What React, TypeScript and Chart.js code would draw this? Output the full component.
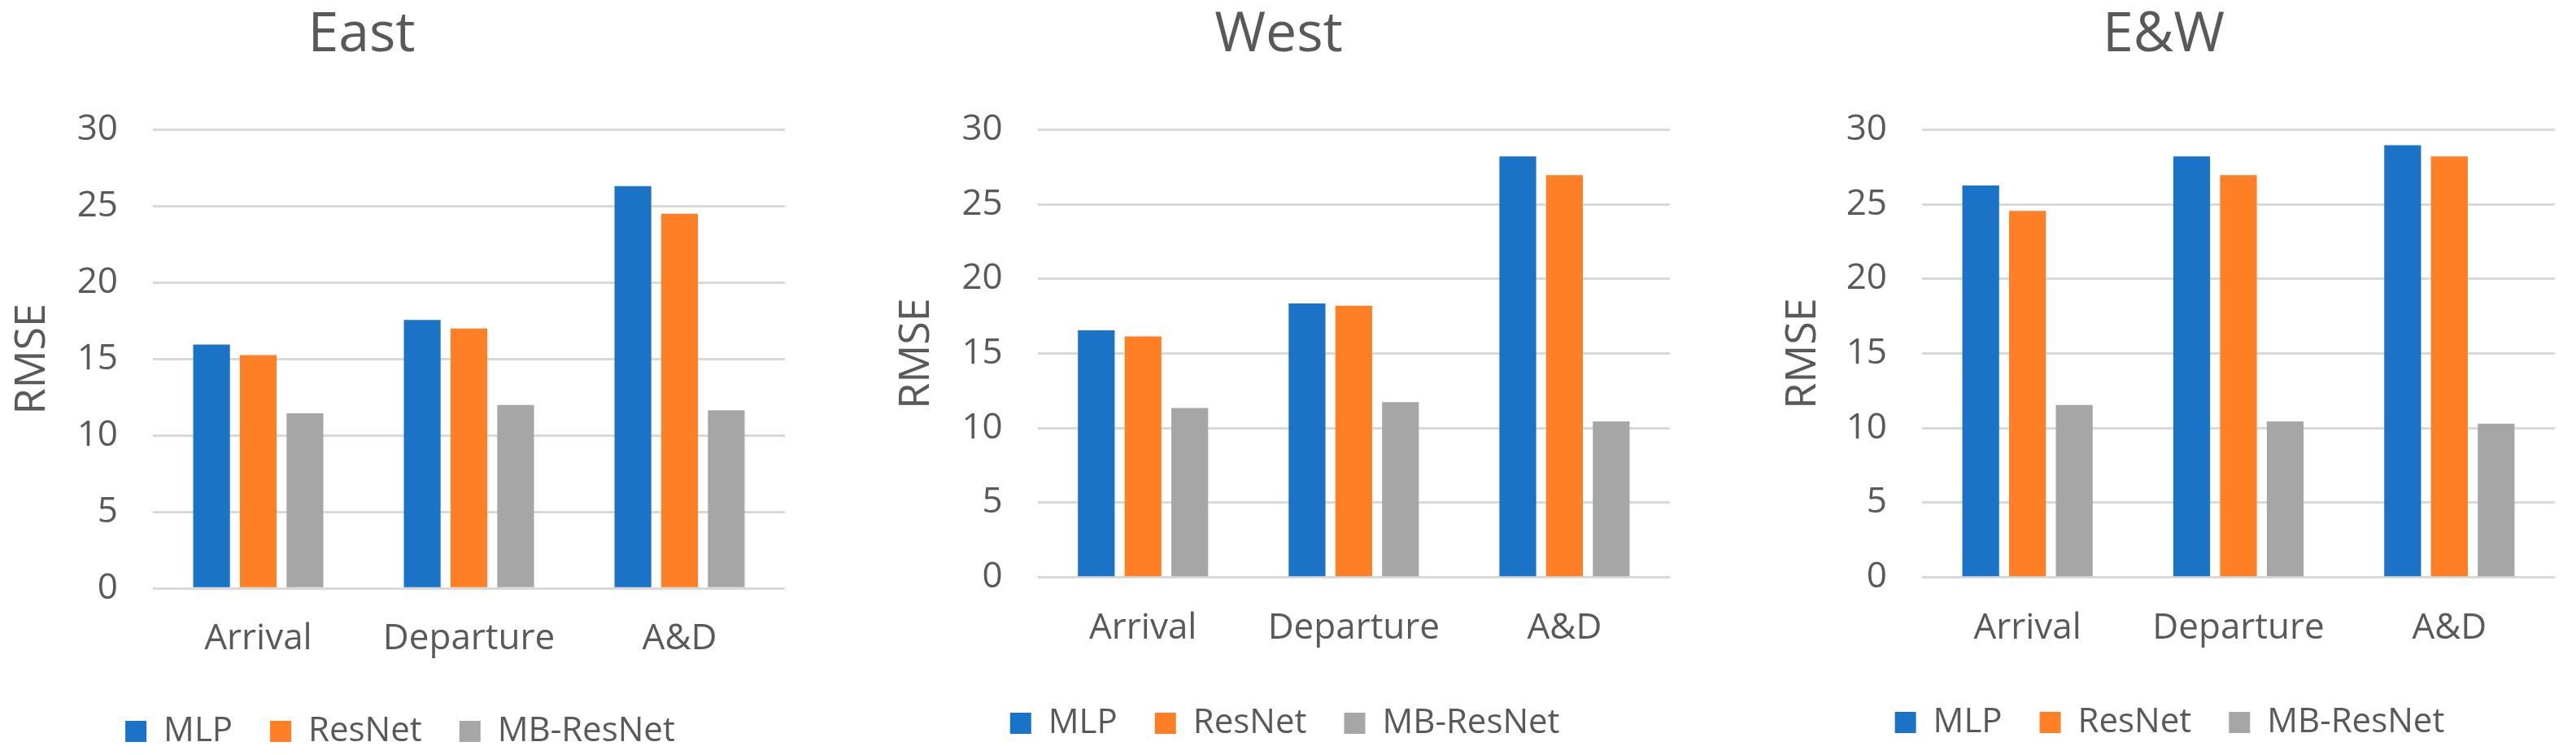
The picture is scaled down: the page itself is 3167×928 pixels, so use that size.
import React, { useEffect, useRef } from 'react';
import { Chart, registerables } from 'chart.js';

Chart.register(...registerables);

// ---- data ----
const categories = ['Arrival', 'Departure', 'A&D'];
const seriesNames = ['MLP', 'ResNet', 'MB-ResNet'];
const panelTitles = ['East', 'West', 'E&W'];
const yAxisTitle = 'RMSE';
const yMin = 0;
const yMax = 30;
const yStep = 5;

const eastMLP = [15.95, 17.55, 26.3];
const eastResNet = [15.25, 17.0, 24.5];
const eastMBResNet = [11.45, 12.0, 11.65];

const westMLP = [16.55, 18.35, 28.2];
const westResNet = [16.15, 18.2, 26.95];
const westMBResNet = [11.35, 11.75, 10.45];

const ewMLP = [26.25, 28.2, 28.95];
const ewResNet = [24.55, 26.95, 28.2];
const ewMBResNet = [11.55, 10.45, 10.3];

// ---- styles / layout ----
const seriesColors = ['#1a73c7', '#ff7f27', '#a6a6a6'];
const TEXT = '#595959';
const GRID = '#d9d9d9';
const FONT = "'Open Sans', 'Noto Sans', sans-serif";
const H = 928;

const TITLE_SIZE = 68;
const TICK_SIZE = 44;
const YTITLE_SIZE = 52;
const LEGEND_SIZE = 42;
const LEGEND_PAD = 46;

type PanelCfg = {
  x0: number; w: number; plotL: number; plotR: number; plotTop: number; plotBottom: number;
  titleX: number; legendX: number; legendY: number; yTitleCenter: number;
};

const panelLayouts: PanelCfg[] = [
  { x0: 0, w: 1060, plotL: 188, plotR: 965, plotTop: 159.3, plotBottom: 723.3, titleX: 444.5, legendX: 492, legendY: 899, yTitleCenter: 40.4 },
  { x0: 1060, w: 1090, plotL: 1275.7, plotR: 2053, plotTop: 159.3, plotBottom: 709.7, titleX: 1572, legendX: 1579.7, legendY: 889, yTitleCenter: 1126.9 },
  { x0: 2150, w: 1017, plotL: 2363, plotR: 3141, plotTop: 159.3, plotBottom: 709.7, titleX: 2660, legendX: 2667.5, legendY: 888, yTitleCenter: 2216.9 },
];

function Panel({ cfg, title, series }: { cfg: PanelCfg; title: string; series: number[][] }) {
  const ref = useRef<HTMLCanvasElement | null>(null);
  useEffect(() => {
    if (!ref.current) return;
    const titleLine = TITLE_SIZE * 1.2;
    const titlePadTop = 43.5 - titleLine / 2;
    const titlePadBottom = cfg.plotTop - titlePadTop - titleLine;
    const yTitleLine = YTITLE_SIZE * 1.2;
    const yTitlePad = cfg.yTitleCenter - cfg.x0 - yTitleLine / 2;

    const placePlugin = {
      id: 'place',
      afterLayout(chart: any) {
        const t = chart.titleBlock;
        if (t) {
          const w = t.right - t.left;
          t.left = cfg.titleX - cfg.x0 - w / 2;
          t.right = t.left + w;
        }
        const l = chart.legend;
        if (l) {
          const w = l.right - l.left;
          const h = l.height;
          l.left = cfg.legendX - cfg.x0 - w / 2;
          l.right = l.left + w;
          l.top = cfg.legendY - LEGEND_PAD - LEGEND_SIZE / 2;
          l.bottom = l.top + h;
        }
      },
    };

    const chart = new Chart(ref.current, {
      type: 'bar',
      data: {
        labels: categories,
        datasets: seriesNames.map((name, i) => ({
          label: name,
          data: series[i],
          backgroundColor: seriesColors[i],
          borderWidth: 0,
          categoryPercentage: 0.665,
          barPercentage: 0.787,
        })),
      },
      options: {
        animation: false,
        responsive: false,
        devicePixelRatio: 1,
        layout: { padding: { left: 0, top: 0, bottom: 0, right: cfg.w - (cfg.plotR - cfg.x0) } },
        plugins: {
          title: {
            display: true,
            text: title,
            color: TEXT,
            font: { family: FONT, size: TITLE_SIZE, weight: 'normal', lineHeight: 1.2 },
            padding: { top: titlePadTop, bottom: titlePadBottom },
          },
          legend: {
            display: true,
            position: 'bottom',
            labels: {
              color: TEXT,
              font: { family: FONT, size: LEGEND_SIZE },
              boxWidth: 26,
              boxHeight: 26,
              padding: LEGEND_PAD,
            },
          },
          tooltip: { enabled: false },
        },
        scales: {
          x: {
            grid: { display: false, drawTicks: false },
            border: { display: false },
            ticks: { color: TEXT, font: { family: FONT, size: TICK_SIZE, lineHeight: 1.2 }, padding: 36, maxRotation: 0 },
            afterFit: (s: any) => { s.height = H - s.chart.legend.height - cfg.plotBottom; },
          },
          y: {
            min: yMin,
            max: yMax,
            grid: { color: GRID, lineWidth: 3, drawTicks: false },
            border: { display: false },
            ticks: { stepSize: yStep, color: TEXT, font: { family: FONT, size: TICK_SIZE, lineHeight: 1.2 }, padding: 43 },
            title: {
              display: true,
              text: yAxisTitle,
              color: TEXT,
              font: { family: FONT, size: YTITLE_SIZE, lineHeight: 1.2 },
              padding: { top: yTitlePad, bottom: 0 },
            },
            afterFit: (s: any) => { s.width = cfg.plotL - cfg.x0; },
          },
        },
      },
      plugins: [placePlugin],
    } as any);
    return () => chart.destroy();
  }, [cfg, title, series]);
  return (
    <canvas
      ref={ref}
      width={cfg.w}
      height={H}
      style={{ position: 'absolute', left: cfg.x0, top: 0, width: cfg.w, height: H, display: 'block' }}
    />
  );
}

const panelSeries = [
  [eastMLP, eastResNet, eastMBResNet],
  [westMLP, westResNet, westMBResNet],
  [ewMLP, ewResNet, ewMBResNet],
];

export default function App() {
  return (
    <div style={{ position: 'fixed', left: 0, top: 0, width: 3167, height: H, background: '#ffffff', overflow: 'hidden' }}>
      {panelLayouts.map((cfg, i) => (
        <Panel key={i} cfg={cfg} title={panelTitles[i]} series={panelSeries[i]} />
      ))}
    </div>
  );
}
